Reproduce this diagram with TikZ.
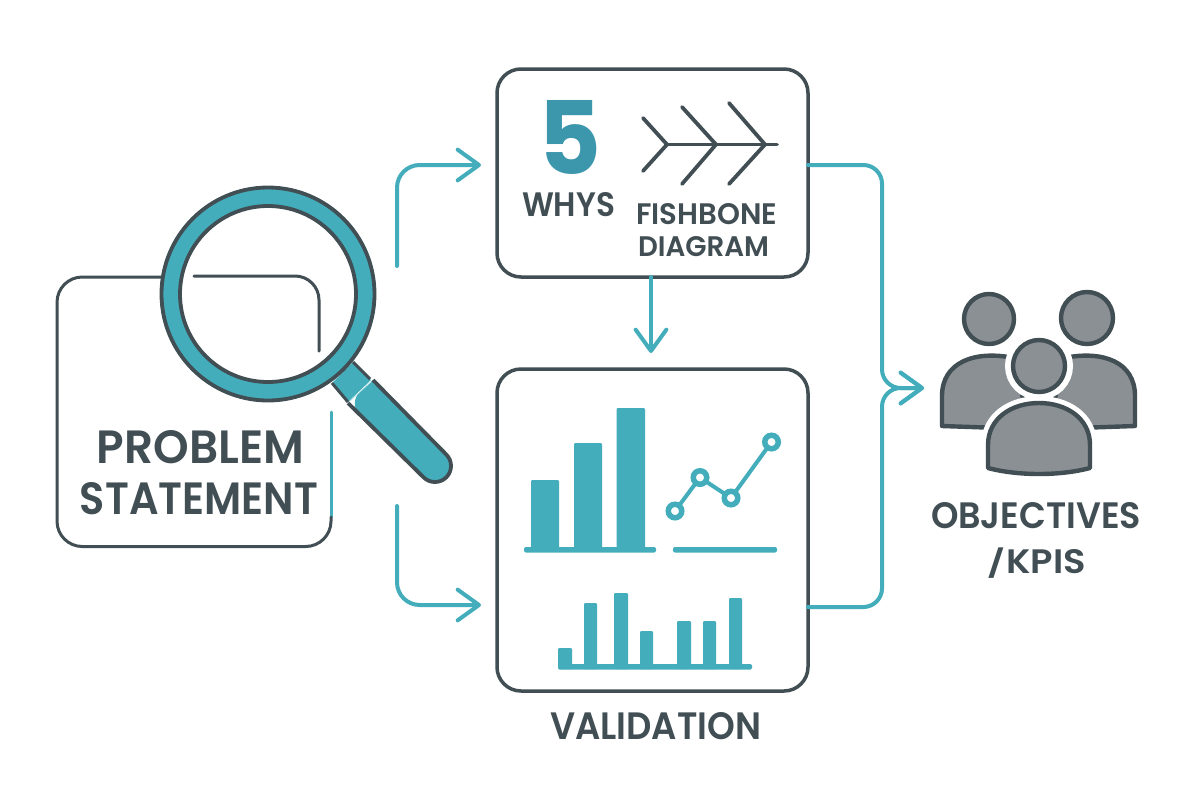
\documentclass[tikz,border=0pt]{standalone}
\usepackage{fontspec}
\usepackage{graphicx}
\setmainfont{Poppins}
\newfontfamily\labfont{Poppins SemiBold}
\usetikzlibrary{arrows.meta}
\definecolor{tealc}{HTML}{44ADBC}
\definecolor{tealdark}{HTML}{3D97AC}
\definecolor{darkc}{HTML}{414E54}
\definecolor{grayc}{HTML}{8B9094}
\newlength\px \setlength\px{0.75pt}
\newcommand\fitbox[3]{\resizebox{#1\px}{#2\px}{#3}}
\tikzset{
  lab/.style={inner sep=0pt,text=darkc,font=\fontsize{30}{30}\labfont},
  card/.style={draw=darkc,line width=3.5\px,rounded corners=18pt,fill=white,inner sep=0pt},
  flow/.style={draw=tealc,line width=4\px,rounded corners=17pt,line cap=round,line join=round},
  flowtip/.style={flow,-{Straight Barb[round,length=16pt,width=23pt,line width=3pt]}},
  outl/.style={draw=darkc,line width=3\px,line cap=round},
  bone/.style={draw=darkc,line width=3.8\px,line cap=round,line join=round},
  bar/.style={fill=tealc,rounded corners=0.8pt},
  person/.style={fill=grayc,draw=darkc,line width=4.4\px,line join=round},
  halo/.style={fill=white,draw=white,line width=14\px},
  dot/.style={draw=tealc,line width=5.5\px,fill=white,circle,inner sep=0pt,minimum size=13.5\px},
}
\begin{document}
\begin{tikzpicture}[x=0.75pt,y=-0.75pt]
\useasboundingbox[fill=white] (0,0) rectangle (1200,800);

% flow coordinates
\coordinate (fa) at (397,266);
\coordinate (fb) at (397,165);
\coordinate (fc) at (481,165);
\coordinate (fd) at (397,506);
\coordinate (fe) at (397,605);
\coordinate (ff) at (481,605);
\coordinate (wo) at (808,165);
\coordinate (wk) at (882,165);
\coordinate (vo) at (808,607);
\coordinate (vk) at (882,607);
\coordinate (mk) at (882,388);
\coordinate (tip) at (924,388);
\coordinate (dn) at (651,353);
\coordinate (up) at (651,277);

% problem box outline
\coordinate (pa) at (331,412);
\coordinate (pb) at (331,517);
\coordinate (pc) at (331,546.5);
\coordinate (pd) at (57,546.5);
\coordinate (pe) at (57,277);
\coordinate (pf) at (170,277);
\draw[outl,draw=tealc] (pa) -- (pb);
\draw[outl,rounded corners=19pt] (pb) -- (pc) -- (pd) -- (pe) -- (pf);
\coordinate (qa) at (194,276);
\coordinate (qb) at (319,276);
\coordinate (qc) at (319,351);
\draw[outl,rounded corners=18pt] (qa) -- (qb) -- (qc);

% magnifier
\coordinate (lens) at (268,294);
\fill[tealc] (332,383) -- (353,362) -- (371,380) -- (348,402) -- cycle;
\draw[outl,line cap=butt] (332,383) -- (348,402) (353,362) -- (370,379);
\fill[tealc,rounded corners=12pt] (373,380) -- (457.6,466) -- (435,488.6) -- (348,403) [sharp corners] -- cycle;
\draw[draw=darkc,line width=3.8\px,rounded corners=12pt,line join=round] (373,380) -- (457.6,466) -- (435,488.6) -- (348,403);
\draw[tealc!45!white,line width=0.45pt] (350,401) -- (371,382);
\path[fill=tealc,even odd rule] (lens) circle[radius=108] (lens) circle[radius=88];
\draw[darkc,line width=3.8\px] (lens) circle[radius=106.5];
\draw[darkc,line width=3.8\px] (lens) circle[radius=88];

\node[lab] (t1) at (200.5,447) {\fitbox{207}{33}{PROBLEM}};
\node[lab] (t2) at (199,498.5) {\fitbox{238}{32}{STATEMENT}};

% cards
\node[card,minimum width=311\px,minimum height=208\px] (why) at (652.5,173) {};
\node[card,minimum width=311\px,minimum height=322\px] (val) at (652.5,530) {};

% flows
\draw[flowtip] (fa) -- (fb) -- (fc);
\draw[flowtip] (fd) -- (fe) -- (ff);
\draw[flowtip] (up) -- (dn);
\draw[flowtip,rounded corners=14pt] (vo) -- (vk) -- (mk) -- (tip);
\draw[flowtip,rounded corners=14pt] (wo) -- (wk) -- (mk) -- (tip);

% five whys
\node[inner sep=0pt,text=tealdark] (five) at (569.5,137) {\fitbox{63}{74}{\bfseries 5}};
\node[lab] (t3) at (568.5,205) {\fitbox{93}{24}{WHYS}};
\node[lab] (t4) at (706.5,214.5) {\fitbox{141}{21}{FISHBONE}};
\node[lab] (t5) at (703.5,247) {\fitbox{131}{20}{DIAGRAM}};

% fishbone
\draw[bone] (667,144.5) -- (777,144.5);
\draw[bone] (643,118) -- (667,144.5) -- (643,171);
\draw[bone] (682,107) -- (716,144.5) -- (682,184);
\draw[bone] (729,103) -- (765,144.5) -- (729,184);

% big bars
\fill[bar] (531,480) rectangle (559,551);
\fill[bar] (574,443) rectangle (602,551);
\fill[bar] (616.5,408) rectangle (645,551);
\fill[tealc,rounded corners=1.5pt] (524,547) rectangle (656,552.5);
\fill[tealc,rounded corners=1.5pt] (673,547) rectangle (777,552.5);

% line chart
\draw[tealc,line width=4\px] (675,511) -- (700,477.5) -- (731,498) -- (771.5,442);
\node[dot] (d1) at (675,511) {};
\node[dot] (d2) at (700,477.5) {};
\node[dot] (d3) at (731,498) {};
\node[dot] (d4) at (771.5,442) {};

% small bars
\fill[bar] (558,648) rectangle (572,669);
\fill[bar] (584,603) rectangle (597,669);
\fill[bar] (614,593) rectangle (628,669);
\fill[bar] (640,631) rectangle (653,669);
\fill[bar] (677,621) rectangle (691,669);
\fill[bar] (703,621) rectangle (716,669);
\fill[bar] (729,598) rectangle (742,669);
\fill[tealc,rounded corners=1pt] (558,664) rectangle (752,669.5);

\node[lab] (t6) at (655.5,726.5) {\fitbox{211}{27}{VALIDATION}};

% people
\coordinate (hl) at (989,319);
\coordinate (hr) at (1087,318);
\coordinate (hc) at (1039,366);
\draw[person] (1014,358) .. controls (975,350) and (942,362) .. (942,396) -- (942,426) -- (1000,428) -- (1030,430) -- cycle;
\draw[person] (1064,358) .. controls (1103,350) and (1135,362) .. (1135,396) -- (1135,426) -- (1078,428) -- (1048,430) -- cycle;
\draw[person] (hl) circle[radius=25];
\draw[person] (hr) circle[radius=26];
\path[halo] (hc) circle[radius=27];
\path[halo] (988,468) -- (988,445) .. controls (988,418) and (1012,403) .. (1039,403) .. controls (1066,403) and (1090,418) .. (1090,445) -- (1090,468) .. controls (1060,476) and (1018,476) .. (988,468) -- cycle;
\draw[person] (hc) circle[radius=26];
\draw[person] (988,468) -- (988,445) .. controls (988,418) and (1012,403) .. (1039,403) .. controls (1066,403) and (1090,418) .. (1090,445) -- (1090,468) .. controls (1060,476) and (1018,476) .. (988,468) -- cycle;

\node[lab] (t7) at (1036,515.5) {\fitbox{210}{26}{OBJECTIVES}};
\node[lab] (t8) at (1036.5,561.5) {\fitbox{99}{24}{\smash{\scalebox{1}[0.8]{/}}\kern0.04em KPIS}};
\end{tikzpicture}
\end{document}
